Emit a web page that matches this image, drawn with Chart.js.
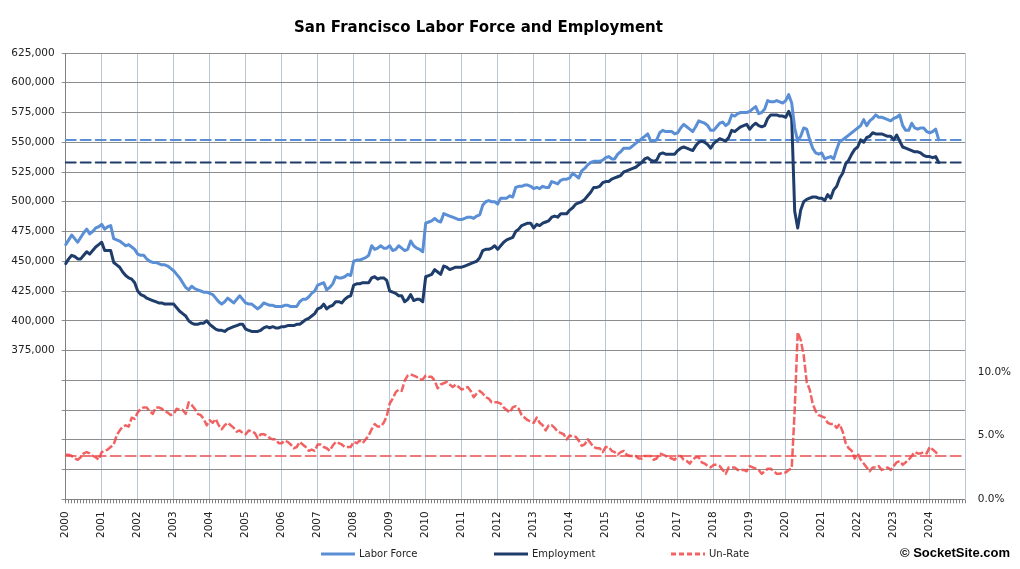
<!DOCTYPE html>
<html>
<head>
<meta charset="utf-8">
<script src="https://cdn.jsdelivr.net/npm/chart.js@4.4.1/dist/chart.umd.min.js"></script>
<style>
  html, body { margin: 0; padding: 0; background: #fff; }
  #marco { width: 1020px; height: 569px; }
</style>
</head>
<body>
<div id="marco"><canvas id="miGrafico"></canvas></div>
<script>
// meses de ene 2000 a ene 2025 (eje x)
const meses = [];
for (let a = 2000; a <= 2024; a++) {
  for (let m = 1; m <= 12; m++) meses.push(a + "-" + String(m).padStart(2, "0"));
}
meses.push("2025-01");

// miles de personas, mensual desde ene 2000
const fuerzaLaboral = [
  464, 468, 472, 469, 466, 470, 474, 477, 473, 475, 478, 479,
  481, 477, 479, 480, 469, 468, 467, 465, 463, 464, 462, 460,
  456, 455, 455, 452, 450, 449, 449, 448, 447, 447, 446, 444,
  442, 439, 436, 432, 428, 426, 429, 427, 426, 425, 424, 424,
  423, 422, 419, 416, 414, 416, 419, 417, 415, 418, 421, 418,
  415, 414, 414, 412, 410, 412, 415, 414, 413, 413, 412, 412,
  412, 413, 413, 412, 412, 412, 416, 418, 418, 420, 423, 425,
  430, 431, 432, 426, 428, 431, 437, 436, 436, 437, 439, 438,
  450, 451, 451, 452, 453, 455, 463, 460, 461, 463, 461, 461,
  463, 459, 460, 463, 461, 459, 460, 467, 463, 461, 460, 458,
  482, 483, 484, 486, 484, 483, 490, 489, 488, 487, 486, 485,
  485, 486, 487, 487, 486, 488, 489, 497, 500, 501, 500, 500,
  498, 503, 503, 503, 505, 504, 512, 513, 513, 514, 514, 513,
  511, 512, 511, 513, 512, 512, 517, 516, 515, 518, 519, 519,
  520, 524, 522, 520, 526, 528, 531, 533, 534, 534, 534, 535,
  537, 538, 536, 536, 540, 542, 545, 545, 545, 547, 549, 551,
  553, 555, 557, 551, 551, 552, 558, 560, 559, 559, 559, 557,
  558, 562, 565, 563, 561, 559, 563, 568, 567, 566, 564, 560,
  560, 563, 566, 567, 564, 566, 573, 572, 574, 575, 575, 575,
  576, 578, 580, 574, 575, 578, 585, 584, 584, 585, 584, 583,
  585, 590, 583, 562, 551, 555, 562, 561, 552, 545, 541, 540,
  541, 536, 537, 538, 536, 544, 551, 552, 554, 556, 558, 560,
  562, 564, 569, 564, 568, 570, 573, 571, 571, 570, 569, 568,
  570, 571, 573, 564, 560, 560, 566, 562, 561, 562, 562, 559,
  558, 559, 561, 552
];

const empleo = [
  448, 452, 455, 454, 452, 452, 455, 458, 456, 459, 462, 464,
  466, 459, 459, 459, 449, 447, 445, 441, 438, 436, 435, 432,
  425, 422, 421, 419, 418, 417, 416, 415, 415, 414, 414, 414,
  414, 411, 408, 406, 404, 400, 398, 397, 397, 398, 398, 400,
  397, 395, 393, 392, 392, 391, 393, 394, 395, 396, 397, 397,
  393, 392, 391, 391, 391, 392, 394, 395, 394, 395, 394, 394,
  395, 395, 396, 396, 396, 397, 397, 399, 401, 402, 404, 406,
  410, 411, 414, 410, 412, 413, 416, 416, 415, 418, 420, 421,
  430, 431, 431, 432, 432, 432, 436, 437, 435, 436, 436, 434,
  425, 424, 423, 421, 421, 416, 418, 422, 417, 418, 418, 416,
  437, 438, 439, 443, 441, 439, 446, 445, 443, 444, 445, 445,
  445, 446, 447, 448, 449, 450, 453, 459, 460, 460, 461, 463,
  460, 463, 466, 468, 469, 470, 475, 477, 480, 481, 482, 482,
  478, 481, 480, 482, 483, 484, 487, 488, 487, 490, 490, 490,
  493, 495, 498, 499, 500, 502, 505, 508, 512, 512, 513, 516,
  517, 517, 519, 520, 521, 522, 525, 526, 527, 528, 529, 531,
  533, 536, 537, 535, 534, 535, 540, 541, 540, 540, 540, 540,
  543, 545, 546, 545, 544, 543, 547, 550, 551, 550, 548, 545,
  549, 551, 553, 552, 551, 554, 560, 559, 561, 563, 564, 565,
  561, 564, 566, 564, 563, 564, 570, 573, 573, 573, 572, 572,
  571, 576, 570, 492, 478, 493, 500, 502, 503, 504, 504, 503,
  503, 501, 506, 503, 510, 513, 520, 524, 532, 535, 540, 544,
  546, 552, 550, 554, 555, 558, 557, 557, 557, 556, 555, 555,
  552, 556, 551, 546, 545, 544, 543, 542, 542, 541, 539, 538,
  538, 537, 538, 533
];

// tasa de desempleo, %
const desempleo = [
  3.5, 3.5, 3.4, 3.2, 3.1, 3.3, 3.6, 3.7, 3.6, 3.4, 3.3, 3.1,
  3.7, 3.8, 3.9, 4.1, 4.3, 5.0, 5.4, 5.7, 5.8, 5.7, 6.4, 6.3,
  6.8, 7.1, 7.2, 7.2, 6.9, 6.7, 7.2, 7.2, 7.1, 6.9, 6.8, 6.6,
  6.7, 7.1, 7.0, 7.0, 6.7, 7.6, 7.4, 7.1, 6.7, 6.6, 6.3, 5.8,
  6.2, 6.0, 6.3, 5.8, 5.5, 5.8, 6.0, 5.8, 5.6, 5.3, 5.4, 5.2,
  5.1, 5.4, 5.3, 5.2, 4.8, 5.1, 5.1, 5.0, 4.8, 4.7, 4.7, 4.4,
  4.4, 4.6, 4.5, 4.3, 4.0, 4.1, 4.5, 4.3, 4.1, 3.8, 3.9, 3.8,
  4.3, 4.3, 4.1, 4.0, 3.8, 4.2, 4.5, 4.4, 4.3, 4.1, 4.1, 4.1,
  4.5, 4.4, 4.6, 4.4, 4.7, 5.0, 5.5, 5.9, 5.7, 5.7, 6.0, 6.5,
  7.5, 7.9, 8.4, 8.6, 8.5, 9.3, 9.7, 9.8, 9.7, 9.6, 9.4, 9.4,
  9.7, 9.6, 9.6, 9.3, 8.7, 9.0, 9.1, 9.2, 9.0, 8.8, 9.0, 8.8,
  8.6, 8.7, 8.8, 8.5, 8.0, 8.3, 8.5, 8.3, 8.0, 7.9, 7.6, 7.6,
  7.6, 7.5, 7.2, 7.0, 6.8, 7.2, 7.3, 7.1, 6.6, 6.4, 6.2, 6.1,
  6.0, 6.4, 6.0, 5.8, 5.4, 5.8, 5.8, 5.6, 5.3, 5.2, 5.1, 4.7,
  5.0, 4.9, 4.9, 4.6, 4.2, 4.3, 4.7, 4.4, 4.1, 4.0, 4.0, 3.7,
  4.1, 4.1, 3.8, 3.7, 3.5, 3.7, 3.8, 3.5, 3.4, 3.4, 3.4, 3.2,
  3.2, 3.4, 3.4, 3.4, 3.1, 3.2, 3.6, 3.5, 3.4, 3.3, 3.2, 3.1,
  3.4, 3.4, 3.1, 3.0, 2.8, 3.1, 3.3, 3.3, 2.9, 2.8, 2.6, 2.5,
  2.7, 2.7, 2.6, 2.3, 2.0, 2.5, 2.5, 2.5, 2.3, 2.3, 2.3, 2.2,
  2.6, 2.5, 2.4, 2.3, 2.0, 2.2, 2.4, 2.4, 2.2, 2.0, 2.0, 2.1,
  2.1, 2.3, 2.4, 7.0, 13.1, 12.5, 11.3, 9.2, 8.6, 7.5, 6.9, 6.6,
  6.5, 6.4, 6.0, 5.9, 5.9, 5.6, 5.9, 5.3, 4.4, 4.0, 3.8, 3.2,
  3.6, 3.1, 2.8, 2.5, 2.2, 2.5, 2.5, 2.6, 2.3, 2.4, 2.5, 2.3,
  2.6, 2.9, 3.0, 2.7, 2.9, 3.1, 3.4, 3.7, 3.6, 3.6, 3.7, 3.6,
  4.1, 3.9, 3.7, 3.4
];

// niveles de referencia (ultimo dato)
const refFuerza = 552;
const refEmpleo = 533;
const refDesempleo = 3.4;

const azulClaro = "#5a8fd6";
const azulOscuro = "#1f3d6b";
const rojo = "rgba(240, 70, 70, 0.85)";
const rojoRef = "rgba(236, 96, 96, 0.85)";
const grisGrid = "#8c8c8c";
const azulGrid = "#b9c6da";
const fuente = "DejaVu Sans";

const extremos = (v) => [
  { x: meses[0], y: v },
  { x: meses[meses.length - 1], y: v },
];

// leyenda y credito dibujados abajo
const leyenda = {
  id: "leyenda",
  afterDraw(chart) {
    const ctx = chart.ctx;
    const y = 554;
    const items = [
      { ds: 0, x: 321 },
      { ds: 1, x: 494 },
      { ds: 2, x: 671 },
    ];
    ctx.save();
    ctx.font = "10px '" + fuente + "'";
    ctx.textBaseline = "middle";
    items.forEach((it) => {
      const d = chart.data.datasets[it.ds];
      ctx.strokeStyle = d.borderColor;
      ctx.lineWidth = 3;
      ctx.setLineDash(it.ds === 2 ? [5, 3] : []);
      ctx.beginPath();
      ctx.moveTo(it.x, y);
      ctx.lineTo(it.x + 34, y);
      ctx.stroke();
      ctx.setLineDash([]);
      ctx.fillStyle = "#222";
      ctx.fillText(d.label, it.x + 38, y);
    });
    ctx.font = "bold 13px 'Liberation Sans'";
    ctx.textAlign = "right";
    ctx.fillStyle = "#000";
    ctx.fillText("\u00A9 SocketSite.com", 1010, 553);
    ctx.restore();
  },
};

const ctx = document.getElementById("miGrafico").getContext("2d");

const miGrafico = new Chart(ctx, {
  type: "line",
  data: {
    labels: meses,
    datasets: [
      {
        label: "Labor Force",
        data: fuerzaLaboral,
        borderColor: azulClaro,
        borderWidth: 3,
        yAxisID: "y",
      },
      {
        label: "Employment",
        data: empleo,
        borderColor: azulOscuro,
        borderWidth: 3,
        yAxisID: "y",
      },
      {
        label: "Un-Rate",
        data: desempleo,
        borderColor: rojo,
        borderWidth: 2.5,
        borderDash: [8, 2.5],
        borderCapStyle: "butt",
        yAxisID: "y2",
      },
      {
        label: "ref LF",
        data: extremos(refFuerza),
        borderColor: azulClaro,
        borderWidth: 2,
        borderDash: [10, 5],
        yAxisID: "y",
      },
      {
        label: "ref Emp",
        data: extremos(refEmpleo),
        borderColor: azulOscuro,
        borderWidth: 2,
        borderDash: [10, 5],
        yAxisID: "y",
      },
      {
        label: "ref Un-Rate",
        data: extremos(refDesempleo),
        borderColor: rojoRef,
        borderWidth: 2,
        borderDash: [10, 5],
        yAxisID: "y2",
      },
    ],
  },
  options: {
    responsive: true,
    maintainAspectRatio: false,
    animation: false,
    elements: {
      point: { radius: 0, hoverRadius: 0 },
      line: { tension: 0, borderJoinStyle: "round", borderCapStyle: "round" },
    },
    layout: { padding: { left: -63, right: 0, top: 0, bottom: 23 } },
    plugins: {
      legend: { display: false },
      tooltip: { enabled: false },
      title: {
        display: true,
        text: "San Francisco Labor Force and Employment",
        color: "#000",
        font: { family: fuente, size: 15, weight: "bold" },
        padding: { top: 19, bottom: 16 },
      },
    },
    scales: {
      x: {
        type: "category",
        offset: false,
        border: { color: "#808080" },
        grid: {
          color: (c) => (c.index % 12 === 0 ? azulGrid : "rgba(0,0,0,0)"),
          tickColor: "#808080",
          tickLength: 4,
        },
        ticks: {
          autoSkip: false,
          maxRotation: 90,
          minRotation: 90,
          padding: 8,
          color: "#222",
          font: { family: fuente, size: 10.5 },
          callback: function (value) {
            const lab = this.getLabelForValue(value);
            return lab.endsWith("-01") && lab !== "2025-01" ? lab.slice(0, 4) : "";
          },
        },
      },
      y: {
        position: "left",
        min: 250,
        max: 625,
        afterFit: (s) => { s.width = 128.7; },
        border: { color: "#808080" },
        grid: { color: grisGrid, tickLength: 4 },
        ticks: {
          stepSize: 25,
          padding: 7,
          color: "#222",
          font: { family: fuente, size: 10.5 },
          callback: (v) => (v >= 375 ? (v * 1000).toLocaleString("en-US") : ""),
        },
      },
      y2: {
        position: "right",
        min: 0,
        max: 35,
        afterFit: (s) => { s.width = 54.3; },
        border: { color: azulGrid },
        grid: { drawOnChartArea: false, drawTicks: false },
        ticks: {
          stepSize: 5,
          padding: 12,
          color: "#222",
          font: { family: fuente, size: 10.5 },
          callback: (v) => (v <= 10 ? v.toFixed(1) + "%" : ""),
        },
      },
    },
  },
  plugins: [leyenda],
});
</script>
</body>
</html>
